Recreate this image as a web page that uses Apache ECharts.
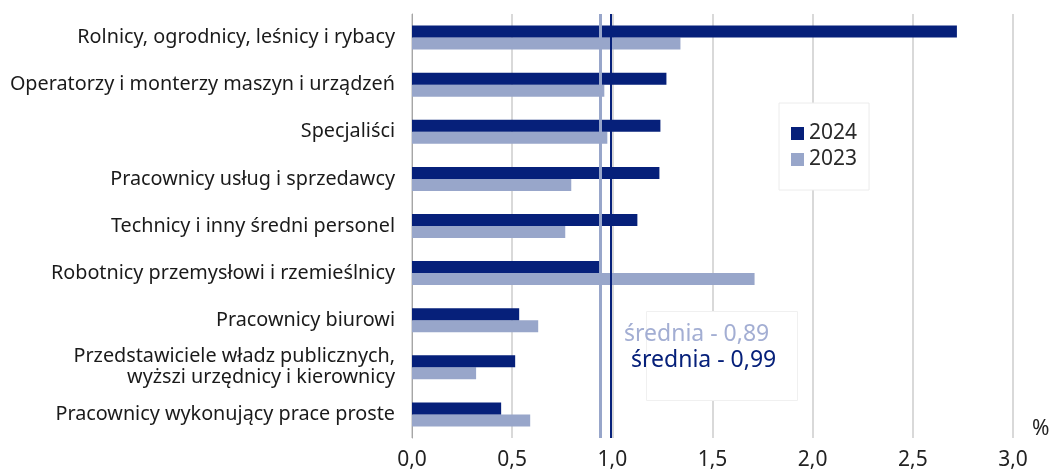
<!DOCTYPE html>
<html>
<head>
<meta charset="utf-8">
<script src="https://cdn.jsdelivr.net/npm/echarts@6/dist/echarts.min.js"></script>
<style>
  html, body { margin: 0; padding: 0; background: #fff; }
  #chart { width: 1052px; height: 471px; }
</style>
</head>
<body>
<div id="chart"></div>
<script>
// dane
const categories = [
  'Rolnicy, ogrodnicy, leśnicy i rybacy',
  'Operatorzy i monterzy maszyn i urządzeń',
  'Specjaliści',
  'Pracownicy usług i sprzedawcy',
  'Technicy i inny średni personel',
  'Robotnicy przemysłowi i rzemieślnicy',
  'Pracownicy biurowi',
  'Przedstawiciele władz publicznych,\nwyższi urzędnicy i kierownicy',
  'Pracownicy wykonujący prace proste'
]
const values2024 = [2.72, 1.27, 1.24, 1.235, 1.125, 0.94, 0.535, 0.515, 0.445]
const values2023 = [1.34, 0.96, 0.975, 0.795, 0.765, 1.71, 0.63, 0.32, 0.59]
const avgLabels = ['średnia - 0,89', 'średnia - 0,99']
const avgLines2023 = [0.94]
const avgLines2024 = [0.99]

const DARK = '#06207a'
const LIGHT = '#98a6ca'
const FONT = 'Noto Sans'

const chart = echarts.init(document.getElementById('chart'))
chart.setOption({
  animation: false,
  textStyle: { fontFamily: FONT },
  grid: { left: 412, right: 39, top: 14, bottom: 31 },
  legend: {
    data: ['2024', '2023'],
    orient: 'vertical',
    left: 779,
    top: 103,
    width: 90,
    padding: [20, 12, 20, 12],
    itemGap: 5,
    backgroundColor: '#fff',
    borderColor: '#ececec',
    borderWidth: 1,
    icon: 'rect',
    itemWidth: 13,
    itemHeight: 13,
    textStyle: { fontSize: 21, color: '#2a2a2a', fontFamily: FONT }
  },
  xAxis: {
    type: 'value',
    min: 0,
    max: 3,
    interval: 0.5,
    axisLine: { show: false },
    axisTick: { show: false },
    axisLabel: {
      fontSize: 21,
      color: '#222',
      margin: 12,
      formatter: v => v.toFixed(1).replace('.', ',')
    },
    splitLine: { lineStyle: { color: '#d9d9d9', width: 2 } }
  },
  yAxis: {
    type: 'category',
    data: categories,
    inverse: true,
    axisLine: { show: true, lineStyle: { color: '#a6a6a6', width: 1 } },
    axisTick: { show: false },
    axisLabel: {
      fontSize: 19.8,
      color: '#1a1a1a',
      margin: 17,
      lineHeight: 21,
      align: 'right'
    }
  },
  series: [
    {
      name: '2024',
      type: 'bar',
      data: values2024,
      barWidth: 12,
      barGap: '0%',
      itemStyle: { color: DARK },
      z: 3,
      markLine: {
        symbol: 'none',
        silent: true,
        label: { show: false },
        lineStyle: { color: DARK, width: 2, type: 'solid' },
        data: avgLines2024.map(v => ({ xAxis: v }))
      }
    },
    {
      name: '2023',
      type: 'bar',
      data: values2023,
      barWidth: 12,
      itemStyle: { color: LIGHT },
      z: 2,
      markLine: {
        symbol: 'none',
        silent: true,
        label: { show: false },
        lineStyle: { color: LIGHT, width: 3, type: 'solid' },
        data: avgLines2023.map(v => ({ xAxis: v }))
      }
    }
  ],
  graphic: [
    {
      type: 'rect',
      left: 646,
      top: 311,
      shape: { width: 151, height: 89 },
      style: { fill: '#fff', stroke: '#f0f0f0', lineWidth: 1 },
      z: 10
    },
    {
      type: 'text',
      left: 624,
      top: 323,
      style: { text: avgLabels[0], fill: '#a3aed3', fontSize: 23, fontFamily: FONT },
      z: 11
    },
    {
      type: 'text',
      left: 631,
      top: 349,
      style: { text: avgLabels[1], fill: DARK, fontSize: 23, fontFamily: FONT },
      z: 11
    },
    {
      type: 'text',
      left: 1032,
      top: 419,
      style: { text: '%', fill: '#222', fontSize: 21, fontFamily: FONT },
      z: 11
    }
  ]
})
</script>
</body>
</html>
